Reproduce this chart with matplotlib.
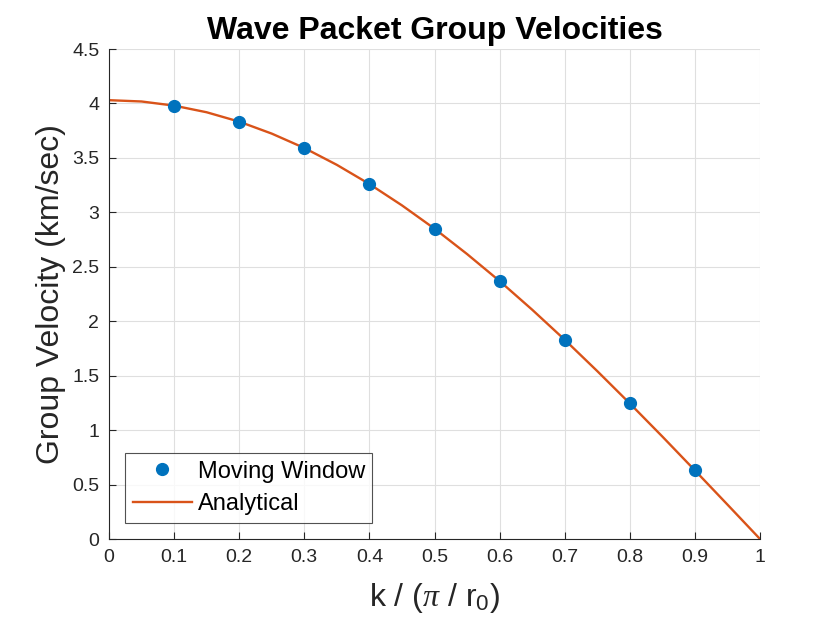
import matplotlib
matplotlib.use("Agg")
import matplotlib.pyplot as plt

# Moving window measurements
k_points = [0.1, 0.2, 0.3, 0.4, 0.5, 0.6, 0.7, 0.8, 0.9]
v_points = [3.98, 3.83, 3.59, 3.26, 2.85, 2.37, 1.83, 1.25, 0.63]

# Analytical curve
k_curve = [0.0, 0.05, 0.1, 0.15, 0.2, 0.25, 0.3, 0.35, 0.4, 0.45, 0.5,
           0.55, 0.6, 0.65, 0.7, 0.75, 0.8, 0.85, 0.9, 0.95, 1.0]
v_curve = [4.03, 4.018, 3.98, 3.919, 3.833, 3.723, 3.591, 3.436, 3.26, 3.064, 2.85,
           2.617, 2.369, 2.106, 1.83, 1.542, 1.245, 0.941, 0.63, 0.316, 0.0]

x_ticks = [0, 0.1, 0.2, 0.3, 0.4, 0.5, 0.6, 0.7, 0.8, 0.9, 1]
x_tick_labels = ["0", "0.1", "0.2", "0.3", "0.4", "0.5", "0.6", "0.7", "0.8", "0.9", "1"]
y_ticks = [0, 0.5, 1, 1.5, 2, 2.5, 3, 3.5, 4, 4.5]
y_tick_labels = ["0", "0.5", "1", "1.5", "2", "2.5", "3", "3.5", "4", "4.5"]

plt.rcParams['font.family'] = ['Liberation Sans', 'DejaVu Sans']
plt.rcParams['mathtext.fontset'] = 'custom'
plt.rcParams['mathtext.rm'] = 'Liberation Sans'
plt.rcParams['mathtext.it'] = 'Liberation Serif:italic'

fig = plt.figure(figsize=(8.4, 6.3), dpi=100)
ax = fig.add_axes([109/840, 1 - 539/630, (760 - 109)/840, (539 - 49)/630])

ax.plot(k_points, v_points, 'o', color='#0072BD', markersize=8.5, label='Moving Window', zorder=3)
ax.plot(k_curve, v_curve, '-', color='#D95319', linewidth=1.7, label='Analytical', zorder=2)

ax.set_xlim(0, 1)
ax.set_ylim(0, 4.5)
ax.set_xticks(x_ticks)
ax.set_xticklabels(x_tick_labels)
ax.set_yticks(y_ticks)
ax.set_yticklabels(y_tick_labels)

ax.grid(True, color='#DFDFDF', linewidth=0.8)
ax.set_axisbelow(True)
for s in ['top', 'right']:
    ax.spines[s].set_visible(False)
for s in ['left', 'bottom']:
    ax.spines[s].set_color('#262626')
    ax.spines[s].set_linewidth(0.8)
ax.tick_params(direction='in', length=5, width=0.8, colors='#262626',
               labelsize=14, labelcolor='#262626', pad=7)

ax.set_xlabel(r'k / ($\pi$ / r$_{\mathrm{0}}$)', fontsize=23, color='#262626')
ax.set_ylabel('Group Velocity (km/sec)', fontsize=23, color='#262626')
ax.xaxis.set_label_coords(0.5, -0.085)
ax.yaxis.set_label_coords(-0.066, 0.5)
ax.set_title('Wave Packet Group Velocities', fontsize=23, fontweight='bold', pad=7)

leg = ax.legend(loc='lower left', fontsize=17, frameon=True, fancybox=False,
                edgecolor='#262626', borderaxespad=0.68, handlelength=2.5,
                borderpad=0.32, labelspacing=0.46, handletextpad=0.25)
leg.get_frame().set_linewidth(0.8)

fig.savefig('out.png', dpi=100)
